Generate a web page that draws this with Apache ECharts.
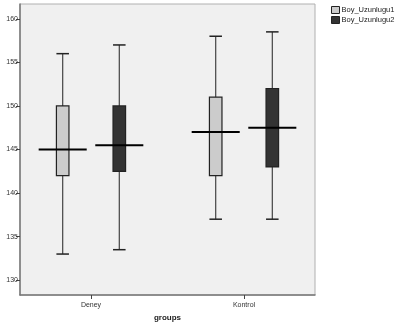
<!DOCTYPE html>
<html>
<head>
<meta charset="utf-8">
<script src="https://cdn.jsdelivr.net/npm/echarts@6/dist/echarts.min.js"></script>
<style>
html,body{margin:0;padding:0;background:#fff;}
#chart{width:399px;height:324px;}
</style>
</head>
<body>
<div id="chart"></div>
<script>
// groups on the x axis
var categories = ['Deney', 'Kontrol'];
var seriesNames = ['Boy_Uzunlugu1', 'Boy_Uzunlugu2'];
// [min, q1, median, q3, max] per group
var boy1 = [
	[133, 142, 145, 150, 156],
	[137, 142, 147, 151, 158]
];
var boy2 = [
	[133.5, 142.5, 145.5, 150, 157],
	[137, 143, 147.5, 152, 158.5]
];
var yTicks = [130, 135, 140, 145, 150, 155, 160];

var fills = ['#cccccc', '#333333'];

/**
 * SPSS style box: narrow box, wide median bar
 */
function renderBox(params, api){
	var x = api.value(0);
	var band = api.size([1, 0])[0];
	var off = (params.seriesIndex === 0 ? -1 : 1) * band * 0.185;
	var cx = api.coord([x, 0])[0] + off;
	var yLo = api.coord([x, api.value(1)])[1];
	var yQ1 = api.coord([x, api.value(2)])[1];
	var yMd = api.coord([x, api.value(3)])[1];
	var yQ3 = api.coord([x, api.value(4)])[1];
	var yHi = api.coord([x, api.value(5)])[1];
	var hw = band * 0.041;
	var mw = band * 0.157;
	var wStyle = {stroke: '#444', lineWidth: 1.2};
	return {
		type: 'group',
		children: [
			{type: 'line', shape: {x1: cx, y1: yHi, x2: cx, y2: yQ3}, style: wStyle},
			{type: 'line', shape: {x1: cx, y1: yQ1, x2: cx, y2: yLo}, style: wStyle},
			{type: 'line', shape: {x1: cx - hw, y1: yHi, x2: cx + hw, y2: yHi}, style: {stroke: '#222', lineWidth: 1.5}},
			{type: 'line', shape: {x1: cx - hw, y1: yLo, x2: cx + hw, y2: yLo}, style: {stroke: '#222', lineWidth: 1.5}},
			{type: 'rect', shape: {x: cx - hw, y: yQ3, width: hw * 2, height: yQ1 - yQ3},
				style: {fill: fills[params.seriesIndex], stroke: '#222', lineWidth: 1.2}},
			{type: 'line', shape: {x1: cx - mw, y1: yMd, x2: cx + mw, y2: yMd}, style: {stroke: '#000', lineWidth: 2}}
		]
	};
}

function toRows(list){
	var rows = [];
	for(var i = 0; i < list.length; i++){
		rows.push([i].concat(list[i]));
	}
	return rows;
}

var chart = echarts.init(document.getElementById('chart'));
var font = '"Liberation Sans", Arial, sans-serif';
var option = {
	animation: false,
	textStyle: {fontFamily: font},
	legend: {
		orient: 'vertical',
		left: 331,
		top: 6,
		padding: 0,
		itemWidth: 8,
		itemHeight: 7,
		itemGap: 2,
		icon: 'rect',
		textStyle: {fontSize: 7.5, color: '#222', fontFamily: font, padding: [0, 0, 0, -3]},
		data: [
			{name: seriesNames[0], itemStyle: {color: fills[0], borderColor: '#222', borderWidth: 1}},
			{name: seriesNames[1], itemStyle: {color: fills[1], borderColor: '#222', borderWidth: 1}}
		]
	},
	grid: {
		left: 20,
		top: 4,
		right: 84,
		bottom: 29,
		outerBoundsMode: 'none',
		containLabel: false,
		show: true,
		backgroundColor: '#f0f0f0',
		borderColor: '#b0b0b0',
		borderWidth: 1
	},
	xAxis: {
		type: 'value',
		min: -0.464,
		max: 1.464,
		name: 'groups',
		nameLocation: 'middle',
		nameGap: 14,
		nameTextStyle: {fontSize: 8, fontWeight: 'bold', color: '#222'},
		splitLine: {show: false},
		axisLine: {show: true, onZero: false, lineStyle: {color: '#777', width: 1.5}},
		axisTick: {show: true, customValues: [0, 1], length: 4, lineStyle: {color: '#444'}},
		axisLabel: {
			customValues: [0, 1],
			fontSize: 7,
			color: '#333',
			margin: 7,
			formatter: function(v){ return categories[Math.round(v)]; }
		}
	},
	yAxis: {
		type: 'value',
		min: 128.3,
		max: 161.7,
		splitLine: {show: false},
		axisLine: {show: true, onZero: false, lineStyle: {color: '#777', width: 1.5}},
		axisTick: {show: true, customValues: yTicks, length: 4, lineStyle: {color: '#444'}},
		axisLabel: {customValues: yTicks, fontSize: 7, color: '#333', margin: 2}
	},
	series: [
		{
			name: seriesNames[0],
			type: 'custom',
			renderItem: renderBox,
			itemStyle: {color: fills[0]},
			encode: {x: 0, y: [1, 2, 3, 4, 5]},
			data: toRows(boy1)
		},
		{
			name: seriesNames[1],
			type: 'custom',
			renderItem: renderBox,
			itemStyle: {color: fills[1]},
			encode: {x: 0, y: [1, 2, 3, 4, 5]},
			data: toRows(boy2)
		}
	]
};
chart.setOption(option);
</script>
</body>
</html>
